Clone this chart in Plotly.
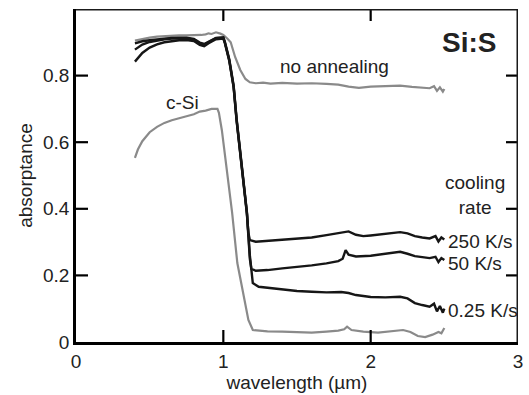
import plotly.graph_objects as go

# ---- data ----
wl_noanneal = [0.40, 0.45, 0.50, 0.55, 0.60, 0.65, 0.70, 0.75, 0.80, 0.85, 0.88, 0.90, 0.92, 0.95, 0.98, 1.00,
               1.03, 1.05, 1.08, 1.115, 1.15, 1.18, 1.22, 1.27, 1.32, 1.40, 1.50, 1.60, 1.70, 1.78, 1.85,
               1.92, 2.00, 2.10, 2.20, 2.28, 2.35, 2.40, 2.43, 2.45, 2.47, 2.49, 2.50]
abs_noanneal = [0.905, 0.910, 0.914, 0.917, 0.919, 0.920, 0.921, 0.921, 0.921, 0.922, 0.924, 0.927, 0.925, 0.930, 0.926, 0.922,
                0.910, 0.900, 0.856, 0.817, 0.790, 0.780, 0.777, 0.779, 0.776, 0.778, 0.776, 0.777, 0.775, 0.773, 0.767,
                0.763, 0.767, 0.769, 0.770, 0.766, 0.765, 0.762, 0.768, 0.754, 0.765, 0.752, 0.760]

wl_csi = [0.40, 0.42, 0.45, 0.50, 0.55, 0.60, 0.65, 0.70, 0.75, 0.80, 0.84, 0.88, 0.92, 0.96, 0.97, 0.99,
          1.01, 1.03, 1.06, 1.095, 1.14, 1.17, 1.20, 1.25, 1.30, 1.40, 1.50, 1.60, 1.70, 1.78, 1.82, 1.84,
          1.87, 1.95, 2.05, 2.15, 2.22, 2.27, 2.32, 2.37, 2.42, 2.46, 2.48, 2.50]
abs_csi = [0.553, 0.578, 0.603, 0.630, 0.646, 0.658, 0.666, 0.673, 0.678, 0.684, 0.692, 0.695, 0.700, 0.700, 0.688, 0.636,
           0.567, 0.486, 0.387, 0.237, 0.135, 0.066, 0.036, 0.033, 0.032, 0.031, 0.030, 0.028, 0.031, 0.034, 0.038, 0.046,
           0.036, 0.031, 0.028, 0.034, 0.036, 0.030, 0.018, 0.015, 0.022, 0.030, 0.026, 0.042]

wl_250 = [0.40, 0.45, 0.50, 0.55, 0.60, 0.65, 0.70, 0.75, 0.80, 0.84, 0.87, 0.90, 0.95, 1.00, 1.01,
          1.04, 1.07, 1.09, 1.115, 1.14, 1.16, 1.17, 1.18, 1.22, 1.30, 1.40, 1.50, 1.60, 1.70, 1.80, 1.85,
          1.90, 1.95, 2.00, 2.10, 2.20, 2.25, 2.30, 2.35, 2.40, 2.44, 2.46, 2.48, 2.50]
abs_250 = [0.878, 0.893, 0.901, 0.906, 0.909, 0.911, 0.912, 0.912, 0.908, 0.897, 0.893, 0.901, 0.912, 0.913, 0.900,
           0.847, 0.766, 0.667, 0.567, 0.486, 0.387, 0.327, 0.306, 0.301, 0.304, 0.306, 0.310, 0.314, 0.321, 0.329, 0.332,
           0.322, 0.318, 0.320, 0.325, 0.330, 0.326, 0.318, 0.314, 0.311, 0.318, 0.302, 0.314, 0.308]

wl_50 = [0.40, 0.45, 0.50, 0.55, 0.60, 0.65, 0.70, 0.75, 0.80, 0.84, 0.87, 0.90, 0.95, 1.00, 1.01,
         1.04, 1.07, 1.09, 1.115, 1.14, 1.16, 1.18, 1.19, 1.22, 1.30, 1.40, 1.50, 1.60, 1.70, 1.78, 1.81,
         1.83, 1.85, 1.90, 2.00, 2.10, 2.20, 2.25, 2.30, 2.40, 2.44, 2.46, 2.48, 2.50]
abs_50 = [0.842, 0.868, 0.884, 0.894, 0.900, 0.904, 0.906, 0.907, 0.904, 0.892, 0.888, 0.897, 0.909, 0.911, 0.898,
          0.845, 0.764, 0.665, 0.565, 0.484, 0.385, 0.250, 0.220, 0.214, 0.216, 0.221, 0.225, 0.230, 0.236, 0.243, 0.250,
          0.276, 0.262, 0.257, 0.259, 0.264, 0.271, 0.265, 0.258, 0.252, 0.256, 0.240, 0.252, 0.246]

wl_025 = [0.40, 0.45, 0.50, 0.55, 0.60, 0.65, 0.70, 0.75, 0.80, 0.84, 0.87, 0.90, 0.95, 1.00, 1.01,
          1.04, 1.07, 1.09, 1.115, 1.14, 1.16, 1.18, 1.20, 1.24, 1.30, 1.40, 1.50, 1.60, 1.70, 1.80, 1.85,
          1.90, 2.00, 2.10, 2.20, 2.25, 2.30, 2.35, 2.40, 2.43, 2.45, 2.47, 2.49, 2.50]
abs_025 = [0.897, 0.903, 0.906, 0.909, 0.911, 0.913, 0.914, 0.914, 0.910, 0.899, 0.895, 0.902, 0.913, 0.915, 0.902,
           0.850, 0.770, 0.671, 0.571, 0.490, 0.390, 0.260, 0.177, 0.166, 0.163, 0.158, 0.153, 0.151, 0.149, 0.150, 0.147,
           0.141, 0.135, 0.134, 0.136, 0.131, 0.117, 0.111, 0.106, 0.115, 0.092, 0.108, 0.088, 0.100]

x_ticks = [0, 1, 2, 3]
x_tick_labels = ["0", "1", "2", "3"]
y_ticks = [0, 0.2, 0.4, 0.6, 0.8, 1.0]
y_tick_labels = ["0", "0.2", "0.4", "0.6", "0.8", "1.0"]
x_inner_ticks = [1, 2]
y_inner_ticks = [0.2, 0.4, 0.6, 0.8]

X_RANGE = [0, 3]
Y_RANGE = [0, 1]
GRAY = "#8a8a8a"
BLACK = "#161616"
FONT = "Liberation Sans, Arial, sans-serif"
W, H = 529, 395
M = dict(l=76, r=11, t=9, b=53)
TICKLEN_PX = 12

fig = go.Figure()
for wl, a, col, w in [(wl_noanneal, abs_noanneal, GRAY, 2.2), (wl_csi, abs_csi, GRAY, 2.2),
                      (wl_025, abs_025, BLACK, 2.4), (wl_50, abs_50, BLACK, 2.4), (wl_250, abs_250, BLACK, 2.4)]:
    fig.add_trace(go.Scatter(x=wl, y=a, mode="lines", line=dict(color=col, width=w), showlegend=False))

# frame (top/right) and inward tick marks, built from the axis ranges and tick lists
tl_x = TICKLEN_PX * (X_RANGE[1] - X_RANGE[0]) / (W - M["l"] - M["r"])
tl_y = TICKLEN_PX * (Y_RANGE[1] - Y_RANGE[0]) / (H - M["t"] - M["b"])
fx, fy = [], []
for xv in x_inner_ticks:
    fx += [xv, xv, None, xv, xv, None]
    fy += [Y_RANGE[0], Y_RANGE[0] + tl_y, None, Y_RANGE[1], Y_RANGE[1] - tl_y, None]
for yv in y_inner_ticks:
    fx += [X_RANGE[0], X_RANGE[0] + tl_x, None, X_RANGE[1], X_RANGE[1] - tl_x, None]
    fy += [yv, yv, None, yv, yv, None]
fig.add_trace(go.Scatter(x=fx, y=fy, mode="lines", line=dict(color="black", width=2.2),
                         showlegend=False, hoverinfo="skip", connectgaps=False))
fig.add_trace(go.Scatter(x=[X_RANGE[0], X_RANGE[1], X_RANGE[1]], y=[Y_RANGE[1], Y_RANGE[1], Y_RANGE[0]],
                         mode="lines", line=dict(color="#1a1a1a", width=3), showlegend=False,
                         hoverinfo="skip", cliponaxis=False))

axis_font = dict(family=FONT, size=19, color="#222")
fig.update_layout(
    width=W, height=H,
    margin=dict(**M, autoexpand=False),
    plot_bgcolor="white", paper_bgcolor="white",
    xaxis=dict(range=X_RANGE, tickvals=x_ticks, ticktext=x_tick_labels, ticks="", automargin=False,
               showline=True, linewidth=2.5, linecolor="black", showgrid=False, zeroline=False,
               tickfont=axis_font, title=dict(text="wavelength (µm)", font=axis_font, standoff=0)),
    yaxis=dict(range=Y_RANGE, tickvals=y_ticks, ticktext=y_tick_labels, ticks="", automargin=False,
               showline=True, linewidth=2.5, linecolor="black", showgrid=False, zeroline=False,
               tickfont=axis_font, title=dict(text="absorptance", font=axis_font, standoff=6)),
)

def label(text, x, y, size=19, bold=False, xanchor="center", align="center"):
    fig.add_annotation(x=x, y=y, xref="x", yref="y", text=f"<b>{text}</b>" if bold else text,
                       showarrow=False, xanchor=xanchor, yanchor="middle", align=align,
                       font=dict(family=FONT, size=size, color="#222"))

label("Si:S", 2.67, 0.898, size=28, bold=True)
label("no annealing", 1.755, 0.826)
label("c-Si", 0.72, 0.718)
label("cooling<br>rate", 2.71, 0.44)
label("250 K/s", 2.512, 0.303, xanchor="left")
label("50 K/s", 2.512, 0.237, xanchor="left")
label("0.25 K/s", 2.512, 0.096, xanchor="left")

fig.write_html("out.html", config={"displayModeBar": False},
               post_script="document.body.style.margin='0';document.body.style.padding='0';")
